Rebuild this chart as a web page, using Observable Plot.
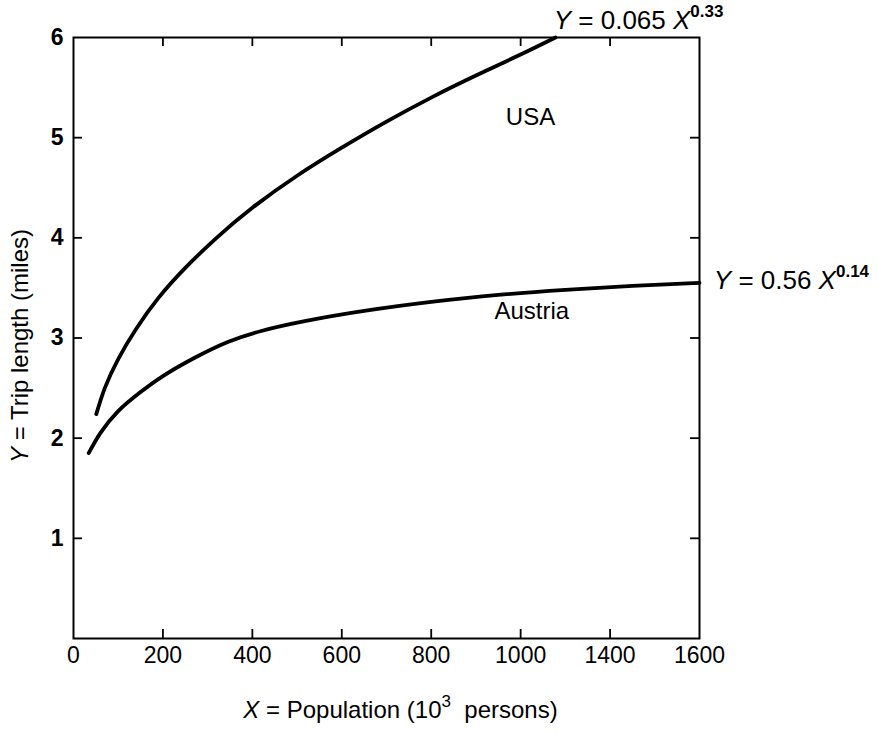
<!DOCTYPE html>
<html>
<head>
<meta charset="utf-8">
<script src="https://cdn.jsdelivr.net/npm/d3@7"></script>
<script src="https://cdn.jsdelivr.net/npm/@observablehq/plot@0.6"></script>
<style>
  html, body { margin: 0; padding: 0; background: #fff; }
  #chart { width: 879px; height: 733px; }
</style>
</head>
<body>
<div id="chart"></div>
<script>
// Tick positions (evenly spaced) and their printed labels (as in the original figure)
const xTickValues = [0, 200, 400, 600, 800, 1000, 1200, 1400];
const xTickLabels = ["0", "200", "400", "600", "800", "1000", "1400", "1600"];
const yTickValues = [1, 2, 3, 4, 5, 6];

// USA curve
const usaX = [51, 70, 100, 140, 190, 250, 320, 400, 500, 600, 700, 800, 900, 1000, 1078];
const usaY = [2.24, 2.5, 2.79, 3.09, 3.4, 3.7, 4.0, 4.3, 4.62, 4.9, 5.16, 5.4, 5.62, 5.83, 6.0];

// Austria curve
const ausX = [34, 60, 100, 150, 200, 270, 345, 420, 520, 650, 800, 950, 1100, 1250, 1400];
const ausY = [1.85, 2.05, 2.27, 2.46, 2.62, 2.8, 2.96, 3.07, 3.17, 3.27, 3.36, 3.43, 3.48, 3.52, 3.55];

const seriesNames = ["USA", "Austria"];
const equationLabels = ["Y = 0.065 X^0.33", "Y = 0.56 X^0.14"];
const xTitle = "X = Population (10^3  persons)";
const yTitle = "Y = Trip length (miles)";

const usa = usaX.map((x, i) => ({x, y: usaY[i]}));
const austria = ausX.map((x, i) => ({x, y: ausY[i]}));

const font = "'Liberation Sans', Arial, Helvetica, sans-serif";

const chart = Plot.plot({
  width: 879,
  height: 733,
  marginLeft: 73,
  marginRight: 180,
  marginTop: 37,
  marginBottom: 95,
  style: {fontFamily: font, fontSize: "22px", color: "#000", background: "#fff"},
  x: {domain: [0, 1400]},
  y: {domain: [0, 6]},
  marks: [
    Plot.frame({stroke: "#000", strokeWidth: 2}),
    Plot.axisX({
      ticks: xTickValues, tickSize: 0, tickPadding: 8, label: null,
      tickFormat: d => xTickLabels[xTickValues.indexOf(d)], fontSize: 23
    }),
    Plot.axisY({
      ticks: yTickValues, tickSize: 0, tickPadding: 10, label: null,
      tickFormat: d => String(d), fontSize: 23, fontWeight: "bold"
    }),
    // inward ticks on all four sides
    Plot.ruleX(xTickValues.slice(1, -1), {x: d => d, y1: 0, y2: 0.09, stroke: "#000", strokeWidth: 1.8}),
    Plot.ruleX(xTickValues.slice(1, -1), {x: d => d, y1: 6, y2: 5.91, stroke: "#000", strokeWidth: 1.8}),
    Plot.ruleY(yTickValues.slice(0, -1), {y: d => d, x1: 0, x2: 20, stroke: "#000", strokeWidth: 1.8}),
    Plot.ruleY(yTickValues.slice(0, -1), {y: d => d, x1: 1400, x2: 1380, stroke: "#000", strokeWidth: 1.8}),
    // curves
    Plot.line(usa, {x: "x", y: "y", stroke: "#000", strokeWidth: 3.8, curve: "natural", strokeLinecap: "round"}),
    Plot.line(austria, {x: "x", y: "y", stroke: "#000", strokeWidth: 3.8, curve: "natural", strokeLinecap: "round"}),
    // series labels
    Plot.text([seriesNames[0]], {x: 1022, y: 5.2, text: d => d, fontSize: 24, fill: "#000"}),
    Plot.text([seriesNames[1]], {x: 1025, y: 3.27, text: d => d, fontSize: 24, fill: "#000"}),
    // equation labels
    Plot.text([equationLabels[0]], {x: 1074, y: 6.17, text: d => d, textAnchor: "start", fontSize: 26, fill: "#000"}),
    Plot.text([equationLabels[1]], {x: 1432, y: 3.57, text: d => d, textAnchor: "start", fontSize: 26, fill: "#000"}),
    // axis titles
    Plot.text([xTitle], {frameAnchor: "bottom", lineAnchor: "middle", textAnchor: "middle", dx: 14, dy: 72, text: d => d, fontSize: 24, fill: "#000"}),
    Plot.text([yTitle], {frameAnchor: "left", textAnchor: "middle", lineAnchor: "middle", dx: -53, dy: 8, rotate: -90, text: d => d, fontSize: 24, fill: "#000"})
  ]
});

document.getElementById("chart").appendChild(chart);

// Rich text: italic variable letters and superscripts
d3.select(chart).selectAll("text").each(function() {
  const t = this.textContent;
  if (t.indexOf("^") < 0 && !/^[XY] = /.test(t)) return;
  const fs = parseFloat(getComputedStyle(this).fontSize) || 24;
  const sel = d3.select(this);
  sel.text(null);
  const re = /(\^[0-9.]+)|(\b[XY]\b)|([^\^XY]+|[XY])/g;
  let m, pendingDy = 0;
  const add = () => {
    const ts = sel.append("tspan");
    if (pendingDy) { ts.attr("dy", pendingDy); pendingDy = 0; }
    return ts;
  };
  while ((m = re.exec(t)) !== null) {
    if (m[1]) {
      const sup = m[1].slice(1);
      const isEq = sup.indexOf(".") >= 0;
      const rise = Math.round(fs * 0.45);
      const ts = add();
      ts.attr("dy", -rise)
        .attr("font-size", Math.round(fs * (isEq ? 0.66 : 0.7)))
        .attr("font-weight", isEq ? "bold" : null)
        .text(sup);
      pendingDy = rise;
    } else if (m[2]) {
      add().attr("font-style", "italic").text(m[2]);
    } else {
      add().text(m[3]);
    }
  }
});
</script>
</body>
</html>
